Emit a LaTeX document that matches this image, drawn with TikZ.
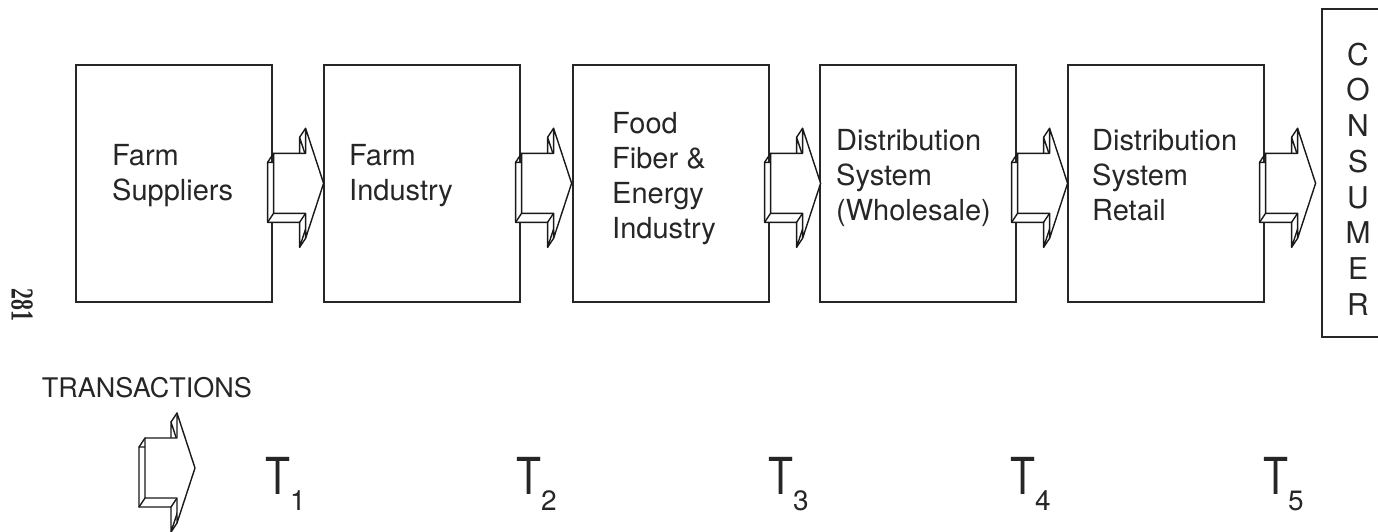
\documentclass[tikz,border=0pt]{standalone}
\usepackage{fontspec}
\setmainfont{TeX Gyre Heros}
\newfontfamily\pagefont{Liberation Serif}
\usepackage{graphicx}
\newcommand\tlabel[1]{\fontsize{51}{51}\selectfont\scalebox{0.8}[1]{T}\kern0pt\raisebox{-16pt}{\fontsize{28}{28}\selectfont #1}}
\tikzset{
  aface/.style={draw=black!90, line width=1.4pt, line join=round, fill=white},
  aedge/.style={draw=black!90, line width=1.4pt, line cap=round},
  flowarrow/.pic={
    \begin{scope}[shift={(-6,9)}]
      \path[aface] (1,-30) -- (33,-30) -- (33,-55) -- (51,0) -- (33,55) -- (33,30) -- (1,30) -- cycle;
    \end{scope}
    \path[aedge] (1,-30) -- (-5,-21) (1,30) -- (-5,39) (33,-55) -- (27,-46) (33,30) -- (27,39) (33,55) -- (27,64);
    \path[aface] (1,-30) -- (33,-30) -- (33,-55) -- (51,0) -- (33,55) -- (33,30) -- (1,30) -- cycle;
  }
}
\begin{document}
\begin{tikzpicture}[x=1pt,y=-1pt,
  box/.style={draw=black!85, line width=1.6pt, minimum width=196pt, minimum height=237pt, anchor=north west, inner sep=0pt},
  lbl/.style={anchor=base west, align=left, font=\fontsize{29}{35}\selectfont, text=black!85, inner sep=0pt},
  tl/.style={anchor=base west, inner sep=0pt, text=black!85},
]
\useasboundingbox (0,0) rectangle (1378,531);
\clip (0,0) rectangle (1378,531);

\node[box] (b1) at (75,64) {};
\node[box] (b2) at (323,64) {};
\node[box] (b3) at (572,64) {};
\node[box] (b4) at (819,64) {};
\node[box] (b5) at (1067,64) {};
\node[draw=black!85, line width=1.6pt, anchor=north west, minimum width=90pt, minimum height=328pt, inner sep=0pt] (cons) at (1321,8) {};

\node[lbl] (l1) at (112,200) {Farm\\Suppliers};
\node[lbl] (l2) at (349,200) {Farm\\Industry};
\node[lbl] (l3) at (612,238) {Food\\Fiber \&\\Energy\\Industry};
\node[lbl] (l4) at (836,220) {Distribution\\System\\(Wholesale)};
\node[lbl] (l5) at (1092,220) {Distribution\\System\\Retail};
\node[align=center, inner sep=0pt, text=black!85, font=\fontsize{30}{35.7}\selectfont] (cl) at (1358,179) {C\\O\\N\\S\\U\\M\\E\\R};

\pic at (b1.east) {flowarrow};
\pic at (b2.east) {flowarrow};
\pic at (b3.east) {flowarrow};
\pic at (b4.east) {flowarrow};
\pic at (b5.east) {flowarrow};

\node[rotate=-90, inner sep=0pt, text=black!85, font=\pagefont\bfseries\fontsize{32}{32}\selectfont] (pg) at (22,305) {\scalebox{0.68}[1]{281}};

\node[anchor=base east, inner sep=0pt, text=black!85, font=\fontsize{27}{27}\selectfont] (tr) at (252,397) {TRANSACTIONS};
\coordinate (leg) at (144,468);
\pic at (leg) {flowarrow};

\node[tl] (t1) at (265,494) {\tlabel{1}};
\node[tl] (t2) at (516,494) {\tlabel{2}};
\node[tl] (t3) at (768,494) {\tlabel{3}};
\node[tl] (t4) at (1010,494) {\tlabel{4}};
\node[tl] (t5) at (1263,494) {\tlabel{5}};
\end{tikzpicture}
\end{document}
